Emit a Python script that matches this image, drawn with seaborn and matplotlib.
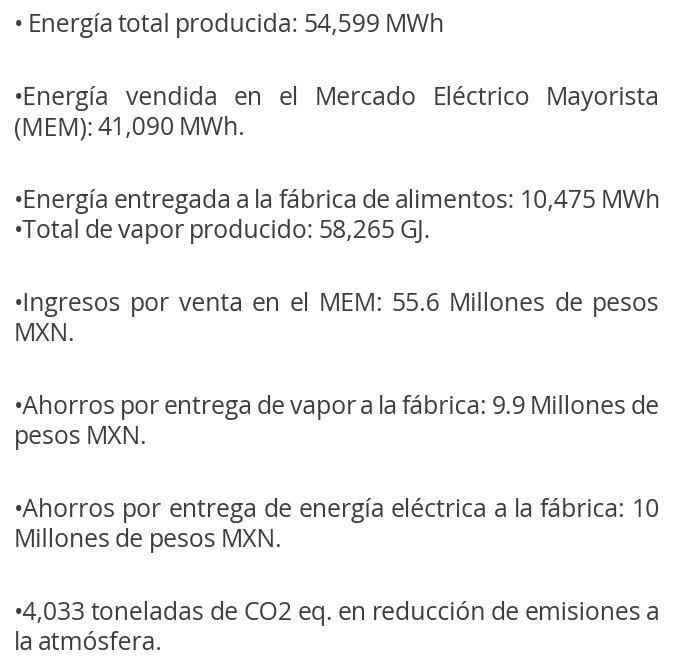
import matplotlib
matplotlib.use("Agg")
import matplotlib.pyplot as plt
import seaborn as sns

# texto tal como aparece en la imagen (cada bloque = un párrafo, ya cortado por renglón)
bloques = [
    ["• Energía total producida: 54,599 MWh"],
    ["•Energía vendida en el Mercado Eléctrico Mayorista",
     "(MEM): 41,090 MWh."],
    ["•Energía entregada a la fábrica de alimentos: 10,475 MWh",
     "•Total de vapor producido: 58,265 GJ."],
    ["•Ingresos por venta en el MEM: 55.6 Millones de pesos",
     "MXN."],
    ["•Ahorros por entrega de vapor a la fábrica: 9.9 Millones de",
     "pesos MXN."],
    ["•Ahorros por entrega de energía eléctrica a la fábrica: 10",
     "Millones de pesos MXN."],
    ["•4,033 toneladas de CO2 eq. en reducción de emisiones a",
     "la atmósfera."],
]

sns.set_theme(style="white")
plt.rcParams['font.family'] = ['Open Sans', 'DejaVu Sans']

W, H = 678, 665
COLOR = '#3d3d3d'
IZQ, DER = 14, 660          # margenes del texto
Y0, RENGLON, PARRAFO = 32, 30, 73
ESPACIO = 0.17              # espacio entre palabras, en em (la fuente original es apretada)

fig = plt.figure(figsize=(W / 100, H / 100), dpi=100)
ax = fig.add_axes([0, 0, 1, 1])
ax.set_xlim(0, W)
ax.set_ylim(H, 0)
ax.axis('off')
rend = fig.canvas.get_renderer()


def ancho(s, size):
    t = ax.text(0, 0, s, fontsize=size)
    w = t.get_window_extent(rend).width
    t.remove()
    return w


def ancho_linea(s, size):
    palabras = s.split(' ')
    em = size * 100 / 72
    return sum(ancho(p, size) for p in palabras) + ESPACIO * em * (len(palabras) - 1)


#--- tamaño de letra: que el 1er renglón y el más largo midan como en la imagen
s1 = 20 * 447 / ancho_linea(bloques[0][0], 20)
s2 = 20 * 646 / ancho_linea(bloques[2][0], 20)
size = min(s1, s2)
em = size * 100 / 72

y = Y0
for b in bloques:
    for i, linea in enumerate(b):
        sig = b[i + 1] if i + 1 < len(b) else None
        justificar = sig is not None and not sig.startswith('•')
        palabras = linea.split(' ')
        anchos = [ancho(p, size) for p in palabras]
        if justificar:
            esp = (DER - IZQ - sum(anchos)) / (len(palabras) - 1)
        else:
            esp = ESPACIO * em
        x = IZQ
        for p, w in zip(palabras, anchos):
            ax.text(x, y, p, fontsize=size, color=COLOR,
                    ha='left', va='baseline')
            x += w + esp
        if i + 1 < len(b):
            y += RENGLON
    y += PARRAFO

fig.savefig('out.png', dpi=100)
